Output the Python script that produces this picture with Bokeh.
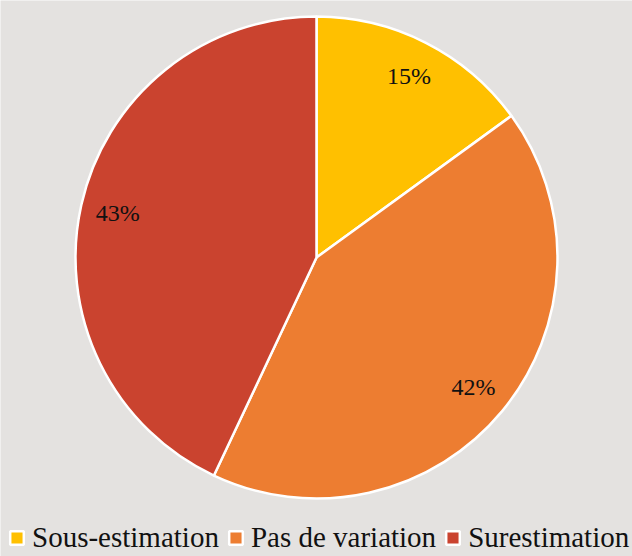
import math
from bokeh.plotting import figure
from bokeh.models import Range1d, ColumnDataSource, Legend, LegendItem
from bokeh.core.properties import value
from bokeh.embed import file_html
from bokeh.resources import INLINE

categories = ["Sous-estimation", "Pas de variation", "Surestimation"]
shares = [15, 42, 43]
labels = ["15%", "42%", "43%"]
colors = ["#FFC000", "#ED7D31", "#CA432F"]

BG = "#e4e2e0"
W, H = 632, 556
cx, cy, R = 316, 299, 241

total = float(sum(shares))
starts, ends, lx, ly = [], [], [], []
cum = 0.0
for s in shares:
    a0 = math.pi / 2 - 2 * math.pi * cum / total
    a1 = math.pi / 2 - 2 * math.pi * (cum + s) / total
    starts.append(a1)
    ends.append(a0)
    mid = (a0 + a1) / 2
    lx.append(cx + 0.845 * R * math.cos(mid))
    ly.append(cy + 0.845 * R * math.sin(mid))
    cum += s

src = ColumnDataSource(dict(start=starts, end=ends, color=colors, cat=categories,
                            lx=lx, ly=ly, lab=labels))

p = figure(width=W, height=H, output_backend="svg", toolbar_location=None,
           x_range=Range1d(0, W), y_range=Range1d(0, H), min_border=0)
p.axis.visible = False
p.grid.visible = False
p.outline_line_color = None
p.background_fill_color = BG
p.border_fill_color = BG

r = p.wedge(x=cx, y=cy, radius=R, start_angle="start", end_angle="end",
            fill_color="color", line_color="white", line_width=2.5, source=src)

p.text(x="lx", y="ly", text="lab", source=src, text_align="center",
       text_baseline="middle", text_font=value("Liberation Serif"),
       text_font_size="24px", text_color="#111111")

items = [LegendItem(label=c, renderers=[r], index=i) for i, c in enumerate(categories)]
legend = Legend(items=items, orientation="horizontal", location=(8, 2),
                label_text_font="Liberation Serif", label_text_font_size="29px",
                label_text_color="#111111", glyph_width=17, glyph_height=17,
                label_standoff=7, spacing=8, padding=0, margin=0,
                border_line_color=None, background_fill_alpha=0,
                label_text_baseline="middle", label_height=22)
p.add_layout(legend, "center")

html = file_html(p, INLINE)
html = html.replace("<body>", '<body style="background:%s;margin:0;overflow:hidden;">' % BG, 1)
open("out.html", "w").write(html)
